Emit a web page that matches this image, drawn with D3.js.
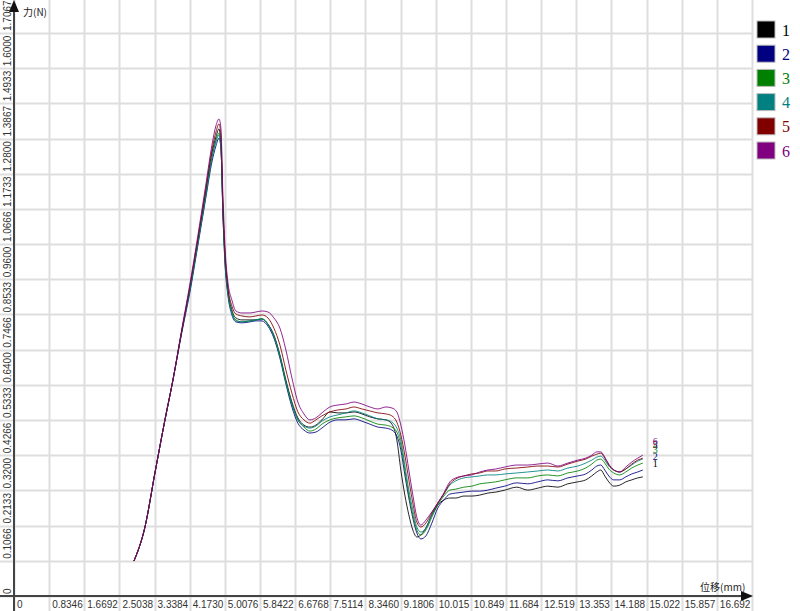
<!DOCTYPE html>
<html>
<head>
<meta charset="utf-8">
<script src="https://cdn.jsdelivr.net/npm/d3@7"></script>
<style>
  html, body { margin: 0; padding: 0; background: #ffffff; }
  svg { display: block; }
</style>
</head>
<body>
<svg id="chart" width="800" height="611"></svg>
<script>
// ---------------- DATA ----------------
const seriesNames = ["1", "2", "3", "4", "5", "6"];
const seriesColors = ["#000000", "#000080", "#008000", "#008080", "#800000", "#800080"];

const xTickLabels = ["0", "0.8346", "1.6692", "2.5038", "3.3384", "4.1730", "5.0076", "5.8422", "6.6768", "7.5114",
  "8.3460", "9.1806", "10.015", "10.849", "11.684", "12.519", "13.353", "14.188", "15.022", "15.857", "16.692"];
const yTickLabels = ["0", "0.1066", "0.2133", "0.3200", "0.4266", "0.5333", "0.6400", "0.7466", "0.8533",
  "0.9600", "1.0666", "1.1733", "1.2800", "1.3867", "1.4933", "1.6000", "1.7067"];

const xLabel = "位移(mm)";
const yLabel = "力(N)";

// displacement (mm) shared by all series
const displacement = [2.849, 3.110, 3.347, 3.585, 3.775, 3.988, 4.178, 4.368, 4.558, 4.701, 4.795, 4.867, 4.914, 4.962,
  5.009, 5.080, 5.175, 5.270, 5.413, 5.603, 5.745, 5.888, 6.030, 6.172, 6.315, 6.457, 6.600, 6.742, 6.885, 7.027,
  7.169, 7.312, 7.502, 7.692, 7.882, 8.072, 8.262, 8.451, 8.641, 8.831, 8.974, 9.092, 9.187, 9.282, 9.377, 9.472,
  9.567, 9.662, 9.781, 9.923, 10.066, 10.208, 10.351, 10.493, 10.683, 10.873, 11.063, 11.253, 11.443, 11.656,
  11.941, 12.202, 12.440, 12.677, 12.915, 13.152, 13.389, 13.579, 13.722, 13.841, 13.935, 14.030, 14.125, 14.244,
  14.386, 14.529, 14.671, 14.814, 14.933];

// force (N) per series
const force1 = [0.106, 0.209, 0.373, 0.534, 0.655, 0.806, 0.934, 1.079, 1.228, 1.343, 1.391, 1.416, 1.367, 1.170,
  1.034, 0.928, 0.867, 0.843, 0.837, 0.837, 0.837, 0.840, 0.824, 0.791, 0.731, 0.655, 0.588, 0.540, 0.518, 0.512,
  0.518, 0.534, 0.558, 0.555, 0.555, 0.558, 0.552, 0.543, 0.537, 0.534, 0.521, 0.473, 0.382, 0.306, 0.246, 0.200,
  0.179, 0.185, 0.206, 0.246, 0.276, 0.291, 0.297, 0.297, 0.303, 0.303, 0.306, 0.312, 0.315, 0.321,
  0.330, 0.321, 0.327, 0.333, 0.330, 0.340, 0.346, 0.352, 0.364, 0.376, 0.382, 0.364, 0.346, 0.333,
  0.336, 0.346, 0.352, 0.358, 0.361];
const force2 = [0.106, 0.209, 0.373, 0.534, 0.655, 0.800, 0.921, 1.064, 1.209, 1.316, 1.364, 1.388, 1.358, 1.155,
  1.012, 0.912, 0.852, 0.831, 0.828, 0.831, 0.834, 0.834, 0.818, 0.782, 0.721, 0.643, 0.573, 0.524, 0.503, 0.494,
  0.497, 0.509, 0.527, 0.534, 0.534, 0.537, 0.530, 0.521, 0.512, 0.509, 0.503, 0.485, 0.443, 0.367, 0.297, 0.236,
  0.191, 0.173, 0.182, 0.221, 0.267, 0.291, 0.309, 0.312, 0.315, 0.318, 0.318, 0.321, 0.327, 0.333,
  0.343, 0.340, 0.346, 0.352, 0.349, 0.358, 0.364, 0.370, 0.382, 0.394, 0.397, 0.382, 0.364, 0.352,
  0.352, 0.361, 0.370, 0.376, 0.382];
const force3 = [0.106, 0.209, 0.373, 0.534, 0.655, 0.806, 0.931, 1.073, 1.222, 1.331, 1.382, 1.403, 1.364, 1.164,
  1.025, 0.921, 0.861, 0.837, 0.831, 0.834, 0.837, 0.840, 0.824, 0.788, 0.727, 0.649, 0.582, 0.534, 0.512, 0.500,
  0.506, 0.521, 0.534, 0.540, 0.543, 0.546, 0.540, 0.530, 0.521, 0.518, 0.512, 0.497, 0.458, 0.382, 0.306, 0.246,
  0.200, 0.185, 0.200, 0.239, 0.276, 0.303, 0.321, 0.324, 0.330, 0.333, 0.340, 0.343, 0.346, 0.352,
  0.358, 0.358, 0.364, 0.367, 0.364, 0.373, 0.379, 0.388, 0.400, 0.412, 0.415, 0.403, 0.385, 0.373,
  0.367, 0.376, 0.388, 0.397, 0.403];
const force4 = [0.106, 0.209, 0.373, 0.534, 0.655, 0.806, 0.928, 1.070, 1.215, 1.328, 1.376, 1.397, 1.361, 1.161,
  1.018, 0.918, 0.858, 0.834, 0.831, 0.834, 0.837, 0.840, 0.824, 0.788, 0.727, 0.649, 0.582, 0.534, 0.515, 0.509,
  0.515, 0.530, 0.543, 0.549, 0.555, 0.561, 0.555, 0.546, 0.537, 0.534, 0.527, 0.509, 0.473, 0.397, 0.321, 0.261,
  0.209, 0.194, 0.206, 0.246, 0.282, 0.309, 0.336, 0.349, 0.358, 0.361, 0.364, 0.367, 0.367, 0.370,
  0.373, 0.376, 0.379, 0.382, 0.379, 0.388, 0.394, 0.403, 0.412, 0.421, 0.424, 0.412, 0.394, 0.382,
  0.376, 0.385, 0.397, 0.409, 0.415];
const force5 = [0.106, 0.209, 0.373, 0.534, 0.655, 0.806, 0.940, 1.085, 1.237, 1.352, 1.406, 1.431, 1.397, 1.185,
  1.043, 0.937, 0.879, 0.855, 0.849, 0.846, 0.849, 0.852, 0.843, 0.812, 0.761, 0.685, 0.615, 0.558, 0.534, 0.524,
  0.534, 0.546, 0.558, 0.564, 0.567, 0.573, 0.567, 0.561, 0.555, 0.552, 0.546, 0.527, 0.488, 0.427, 0.352, 0.282,
  0.224, 0.209, 0.221, 0.252, 0.282, 0.309, 0.340, 0.355, 0.364, 0.370, 0.373, 0.379, 0.379, 0.385,
  0.388, 0.391, 0.394, 0.394, 0.391, 0.400, 0.409, 0.415, 0.424, 0.430, 0.433, 0.418, 0.397, 0.382,
  0.376, 0.385, 0.400, 0.412, 0.418];
const force6 = [0.106, 0.209, 0.373, 0.534, 0.655, 0.812, 0.946, 1.094, 1.249, 1.367, 1.425, 1.446, 1.419, 1.215,
  1.064, 0.952, 0.897, 0.864, 0.858, 0.858, 0.861, 0.864, 0.861, 0.843, 0.812, 0.746, 0.661, 0.588, 0.552, 0.534,
  0.540, 0.555, 0.573, 0.579, 0.582, 0.588, 0.582, 0.573, 0.567, 0.573, 0.570, 0.558, 0.518, 0.458, 0.382, 0.306,
  0.239, 0.215, 0.230, 0.255, 0.282, 0.312, 0.346, 0.358, 0.364, 0.367, 0.376, 0.382, 0.385, 0.391,
  0.397, 0.397, 0.400, 0.403, 0.394, 0.403, 0.412, 0.418, 0.427, 0.437, 0.437, 0.421, 0.400, 0.382,
  0.376, 0.391, 0.406, 0.418, 0.427];

const forces = [force1, force2, force3, force4, force5, force6];

// ---------------- CHART ----------------
const svg = d3.select("#chart");
const W = 800, H = 611;

const x = d3.scaleLinear().domain([0, 17.5266]).range([14, 752]);
const y = d3.scaleLinear().domain([0, 1.7067]).range([596, 33]);

const xStep = 0.8346;
const yStep = 0.106669;
const xTickVals = d3.range(0, 22).map(i => i * xStep);
const yTickVals = d3.range(0, 17).map(i => i * yStep);

const gridColor = "#dedede";
const grid = svg.append("g");
grid.selectAll("line.v").data(xTickVals).join("line")
  .attr("x1", d => Math.round(x(d)) + 0.5).attr("x2", d => Math.round(x(d)) + 0.5)
  .attr("y1", 0).attr("y2", H)
  .attr("stroke", gridColor).attr("stroke-width", 2);
grid.selectAll("line.h").data(yTickVals).join("line")
  .attr("x1", 0).attr("x2", x(xTickVals[21]) + 1)
  .attr("y1", d => Math.round(y(d)) + 0.5).attr("y2", d => Math.round(y(d)) + 0.5)
  .attr("stroke", gridColor).attr("stroke-width", 2);

// axes lines
const axisColor = "#444";
svg.append("line").attr("x1", 0).attr("x2", 746).attr("y1", y(0)).attr("y2", y(0))
  .attr("stroke", axisColor).attr("stroke-width", 2);
svg.append("line").attr("x1", x(0)).attr("x2", x(0)).attr("y1", 8).attr("y2", H)
  .attr("stroke", axisColor).attr("stroke-width", 2);
svg.append("path").attr("d", `M${x(0)},0 L${x(0) - 5},12 L${x(0) + 5},12 Z`).attr("fill", "#111");
svg.append("path").attr("d", `M753,${y(0)} L741,${y(0) - 5} L741,${y(0) + 5} Z`).attr("fill", "#111");

// tick labels
const fontFam = "'Liberation Sans', Arial, sans-serif";
svg.append("g").selectAll("text").data(xTickLabels).join("text")
  .attr("x", (d, i) => x(xTickVals[i]) + 3)
  .attr("y", 608)
  .attr("font-family", fontFam).attr("font-size", 10).attr("fill", "#333")
  .text(d => d);
svg.append("g").selectAll("text").data(yTickLabels).join("text")
  .attr("transform", (d, i) => `translate(11,${y(yTickVals[i]) - 2}) rotate(-90)`)
  .attr("text-anchor", "start")
  .attr("font-family", fontFam).attr("font-size", 10).attr("fill", "#333")
  .text(d => d);

svg.append("text").attr("x", 23).attr("y", 16)
  .attr("font-family", "'Noto Sans CJK SC', " + fontFam).attr("font-size", 10).attr("fill", "#222")
  .text(yLabel);
svg.append("text").attr("x", 700).attr("y", 591)
  .attr("font-family", "'Noto Sans CJK SC', " + fontFam).attr("font-size", 10).attr("fill", "#222")
  .text(xLabel);

// series lines
const line = d3.line().x((d, i) => x(displacement[i])).y(d => y(d)).curve(d3.curveMonotoneX);
svg.append("g").selectAll("path").data(forces).join("path")
  .attr("d", d => line(d))
  .attr("fill", "none")
  .attr("stroke", (d, i) => seriesColors[i])
  .attr("stroke-width", 1)
  .attr("stroke-opacity", 0.85);

// end labels
svg.append("g").selectAll("text").data(forces).join("text")
  .attr("x", x(displacement[displacement.length - 1]) + 10)
  .attr("y", d => y(d[d.length - 1]) - 10)
  .attr("font-family", "'Liberation Serif', serif").attr("font-size", 10)
  .attr("fill", (d, i) => seriesColors[i])
  .text((d, i) => seriesNames[i]);

// legend
const lg = svg.append("g");
seriesNames.forEach((name, i) => {
  const ty = 21 + i * 24.2;
  lg.append("rect").attr("x", 757).attr("y", ty).attr("width", 18).attr("height", 17)
    .attr("fill", seriesColors[i]).attr("stroke", "#bbb").attr("stroke-width", 1);
  lg.append("text").attr("x", 782).attr("y", ty + 14.5)
    .attr("font-family", "'Liberation Serif', 'Times New Roman', serif").attr("font-size", 16)
    .attr("fill", seriesColors[i]).text(name);
});
</script>
</body>
</html>
